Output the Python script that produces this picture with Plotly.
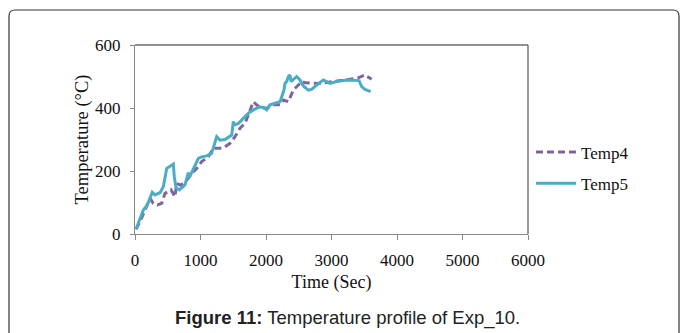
import plotly.graph_objects as go

# Temp5 (solid teal)
t5_time = [15, 127, 188, 264, 305, 382, 432, 484, 585, 600, 626, 677, 763, 814, 830, 901, 967, 1018,
           1094, 1170, 1211, 1247, 1298, 1374, 1476, 1501, 1517, 1578, 1654, 1730, 1807, 1883, 1959,
           2010, 2061, 2137, 2214, 2249, 2275, 2290, 2316, 2341, 2366, 2382, 2407, 2468, 2519, 2570,
           2646, 2697, 2774, 2875, 2977, 3079, 3232, 3333, 3420, 3461, 3511, 3598]
t5_temp = [15, 76, 92, 132, 124, 131, 150, 208, 222, 182, 148, 140, 156, 195, 180, 214, 240, 245,
           248, 256, 283, 309, 298, 300, 314, 357, 346, 351, 367, 383, 394, 402, 402,
           394, 410, 415, 420, 441, 457, 478, 484, 500, 505, 484, 489, 500, 489, 470,
           457, 459, 473, 489, 478, 484, 489, 489, 487, 468, 459, 452]

# Temp4 (dashed purple)
t4_time = [15, 76, 153, 229, 280, 341, 407, 458, 550, 611, 636, 700, 789, 865, 942, 1018, 1120, 1196,
           1298, 1374, 1450, 1527, 1603, 1679, 1730, 1807, 1857, 1920, 2010, 2112, 2214, 2265, 2341,
           2417, 2494, 2545, 2600, 2723, 2824, 3028, 3232, 3400, 3511, 3613]
t4_temp = [15, 39, 76, 113, 97, 92, 97, 129, 140, 118, 160, 155, 171, 192, 208, 230, 245, 272,
           272, 277, 288, 309, 336, 351, 378, 420, 410, 400, 399, 410, 410, 425, 420,
           457, 473, 484, 480, 478, 478, 484, 491, 495, 505, 491]

x_ticks = [0, 1000, 2000, 3000, 4000, 5000, 6000]
y_ticks = [0, 200, 400, 600]

W, H = 681, 333
L, R, T, B = 135, 528, 45, 234  # plot area pixels


def px(x):
    return (x - L) / (R - L)


def py(y):
    return (B - y) / (B - T)


fig = go.Figure()
fig.add_trace(go.Scatter(x=t4_time, y=t4_temp, mode="lines", name="Temp4",
                         line=dict(color="#8064A2", width=3, dash="7px,4px"),
                         legendgroup="a"))
fig.add_trace(go.Scatter(x=t5_time, y=t5_temp, mode="lines", name="Temp5",
                         line=dict(color="#4BACC6", width=3),
                         legendgroup="b"))

serif = "Liberation Serif, Times New Roman, serif"

# outer rounded frame
x0, x1 = px(9), px(679)
yt, yb = py(10), py(345)
rx, ry = 6 / (R - L), 6 / (B - T)
path = (f"M {x0},{yb} L {x0},{yt - ry} Q {x0},{yt} {x0 + rx},{yt} "
        f"L {x1 - rx},{yt} Q {x1},{yt} {x1},{yt - ry} L {x1},{yb}")

shapes = [
    dict(type="path", xref="paper", yref="paper", path=path,
         line=dict(color="#333333", width=1.2), layer="above"),
    dict(type="line", xref="paper", yref="paper", x0=0, x1=1, y0=1, y1=1,
         line=dict(color="#222222", width=1.2)),
    dict(type="line", xref="paper", yref="paper", x0=1, x1=1, y0=0, y1=1,
         line=dict(color="#555555", width=1.2)),
]

fig.update_layout(
    width=W, height=H,
    margin=dict(l=L, r=W - R, t=T, b=H - B, autoexpand=False),
    paper_bgcolor="white", plot_bgcolor="white",
    showlegend=True,
    legend=dict(x=px(531), y=py(168), xanchor="left", yanchor="middle",
                font=dict(family=serif, size=17, color="#111111"),
                tracegroupgap=6, itemwidth=40, bgcolor="rgba(0,0,0,0)"),
    shapes=shapes,
    xaxis=dict(range=[0, 6000], tickvals=x_ticks, ticktext=[str(v) for v in x_ticks],
               showgrid=False, zeroline=False, showline=True, linecolor="#888888", linewidth=1.2,
               ticks="outside", ticklen=5, tickcolor="#888888", ticklabelstandoff=5,
               tickfont=dict(family=serif, size=17, color="#111111"),
               title=dict(text="Time (Sec)", font=dict(family=serif, size=18, color="#111111"),
                          standoff=6)),
    yaxis=dict(range=[0, 600], tickvals=y_ticks, ticktext=[str(v) for v in y_ticks],
               showgrid=False, zeroline=False, showline=True, linecolor="#888888", linewidth=1.2,
               ticks="outside", ticklen=4, tickcolor="#888888", ticklabelstandoff=6,
               tickfont=dict(family=serif, size=17, color="#111111"),
               title=dict(text="Temperature (°C)", font=dict(family=serif, size=18.5, color="#111111"),
                          standoff=1)),
    annotations=[
        dict(xref="paper", yref="paper", x=px(347), y=py(318), xanchor="center", yanchor="middle",
             showarrow=False,
             text="<b>Figure 11:</b> Temperature profile of Exp_10.",
             font=dict(family="Liberation Sans, Arial, sans-serif", size=18.5, color="#222222")),
    ],
)

fig.write_html("out.html")
